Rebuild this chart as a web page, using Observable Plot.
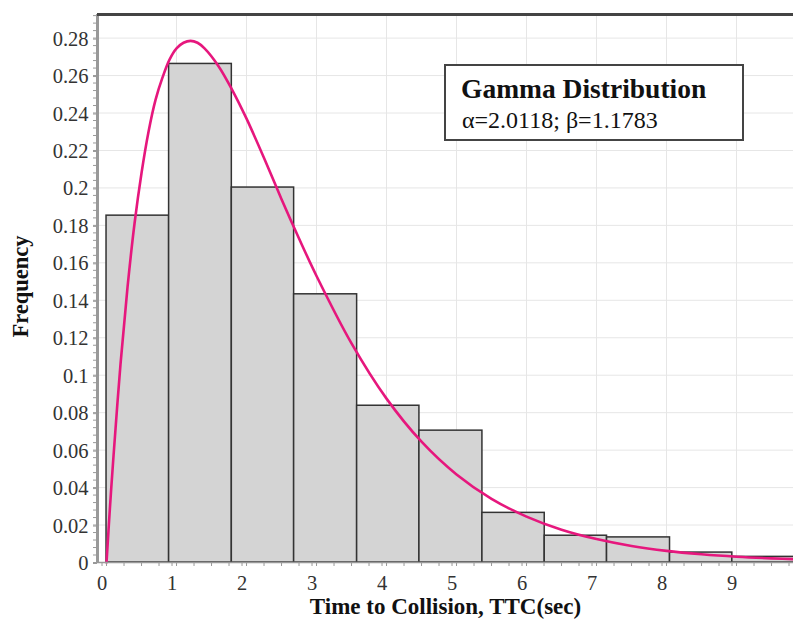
<!DOCTYPE html>
<html><head><meta charset="utf-8">
<script src="https://cdn.jsdelivr.net/npm/d3@7"></script>
<script src="https://cdn.jsdelivr.net/npm/@observablehq/plot@0.6"></script>
<style>
body{margin:0;background:#fff;}
#wrap{position:relative;width:793px;height:619px;overflow:hidden;font-family:"Liberation Serif","DejaVu Serif",serif;}
#legend{position:absolute;left:444px;top:64px;width:296px;height:73px;border:2px solid #444;background:#fff;box-sizing:content-box;padding:0;}
#legend .t{position:absolute;left:15px;top:8px;font-family:"Liberation Serif","DejaVu Serif",serif;font-weight:bold;font-size:27.5px;line-height:30px;color:#111;white-space:nowrap;}
#legend .s{position:absolute;left:16px;top:39px;font-family:"Liberation Serif","DejaVu Serif",serif;font-weight:normal;font-size:24px;line-height:30px;color:#111;white-space:nowrap;}
</style>
</head><body>
<div id="wrap"></div>
<script>
// Histogram bins (TTC, sec) and relative frequencies
const binStart = [0, 0.894, 1.79, 2.68, 3.58, 4.47, 5.37, 6.26, 7.15, 8.05, 8.94];
const binEnd   = [0.894, 1.79, 2.68, 3.58, 4.47, 5.37, 6.26, 7.15, 8.05, 8.94, 9.84];
const freq     = [0.1852, 0.2662, 0.2002, 0.1432, 0.0837, 0.0704, 0.0265, 0.0143, 0.0134, 0.0053, 0.003];

// Fitted gamma curve
const curveX = [0, 0.05, 0.1, 0.2, 0.3, 0.4, 0.5, 0.6, 0.7, 0.8, 0.9, 1.0, 1.1, 1.2, 1.3, 1.4, 1.6, 1.8, 2.0, 2.25, 2.5, 2.75, 3, 3.5, 4, 4.5, 5, 5.5, 6, 6.5, 7, 7.5, 8, 8.5, 9, 9.5, 9.9];
const curveY = [0, 0.030, 0.057, 0.106, 0.147, 0.181, 0.208, 0.230, 0.247, 0.259, 0.2685, 0.2745, 0.2775, 0.2785, 0.2775, 0.2745, 0.265, 0.252, 0.237, 0.216, 0.194, 0.173, 0.153, 0.117, 0.0875, 0.0645, 0.047, 0.034, 0.0245, 0.0175, 0.0125, 0.0088, 0.0062, 0.0044, 0.0031, 0.0022, 0.0017];

// Ticks
const xTicks = [0, 1, 2, 3, 4, 5, 6, 7, 8, 9];
const xMinor = d3.range(0, 9.81, 0.25);
const yTicks = [0, 0.02, 0.04, 0.06, 0.08, 0.1, 0.12, 0.14, 0.16, 0.18, 0.2, 0.22, 0.24, 0.26, 0.28];
const yMinor = d3.range(0, 0.2921, 0.004);

const xLabel = "Time to Collision, TTC(sec)";
const yLabel = "Frequency";
const legendTitle = "Gamma Distribution";
const legendSub = "α=2.0118; β=1.1783";

const xDomain = [-0.129, 9.814];
const yDomain = [0, 0.2926];

const bins = binStart.map((s, i) => ({x1: s, x2: binEnd[i], f: freq[i]}));
const curve = curveX.map((x, i) => ({x, y: curveY[i]}));

const plot = Plot.plot({
  width: 793, height: 619,
  marginLeft: 97, marginRight: 0, marginTop: 14, marginBottom: 57,
  style: {fontFamily: "'Liberation Serif', 'DejaVu Serif', serif", fontSize: "20.5px", color: "#333", background: "#fff"},
  x: {domain: xDomain},
  y: {domain: yDomain},
  marks: [
    Plot.gridX(xTicks.filter(d => d > 0), {stroke: "#e6e6e6", strokeOpacity: 1}),
    Plot.gridY(yTicks.filter(d => d > 0), {stroke: "#e6e6e6", strokeOpacity: 1}),
    Plot.rect(bins, {x1: "x1", x2: "x2", y1: 0, y2: "f", fill: "#d4d4d4", stroke: "#333", strokeWidth: 1.5}),
    Plot.line(curve, {x: "x", y: "y", stroke: "#e6177d", strokeWidth: 2.6, curve: "catmull-rom"}),
    Plot.ruleY([yDomain[0]], {stroke: "#999", strokeWidth: 1.5}),
    Plot.ruleX([xDomain[0]], {stroke: "#999", strokeWidth: 3}),
    Plot.ruleY([yDomain[1]], {stroke: "#444", strokeWidth: 3}),
    Plot.axisX(xMinor, {tickSize: 4, text: null, stroke: "#999", label: null}),
    Plot.axisX(xTicks, {tickSize: 4, tickPadding: 9, dx: -4.5, stroke: "#999", fill: "#333", label: null}),
    Plot.axisY(yMinor, {tickSize: 4, text: null, stroke: "#999", label: null}),
    Plot.axisY(yTicks, {tickSize: 4, tickPadding: 5, dy: 1, stroke: "#999", fill: "#333", tickFormat: d => String(+d.toFixed(2)), label: null}),
    Plot.text([xLabel], {text: d => d, frameAnchor: "bottom", textAnchor: "middle", dy: 51, lineAnchor: "bottom", fontWeight: "bold", fontSize: 23, fill: "#111"}),
    Plot.text([yLabel], {text: d => d, frameAnchor: "left", textAnchor: "middle", dx: -77, dy: -2, rotate: -90, fontWeight: "bold", fontSize: 22.5, fill: "#111"})
  ]
});

const wrap = document.getElementById("wrap");
wrap.appendChild(plot);
const lg = document.createElement("div");
lg.id = "legend";
lg.innerHTML = `<div class="t"></div><div class="s"></div>`;
lg.querySelector(".t").textContent = legendTitle;
lg.querySelector(".s").textContent = legendSub;
wrap.appendChild(lg);
</script>
</body></html>
